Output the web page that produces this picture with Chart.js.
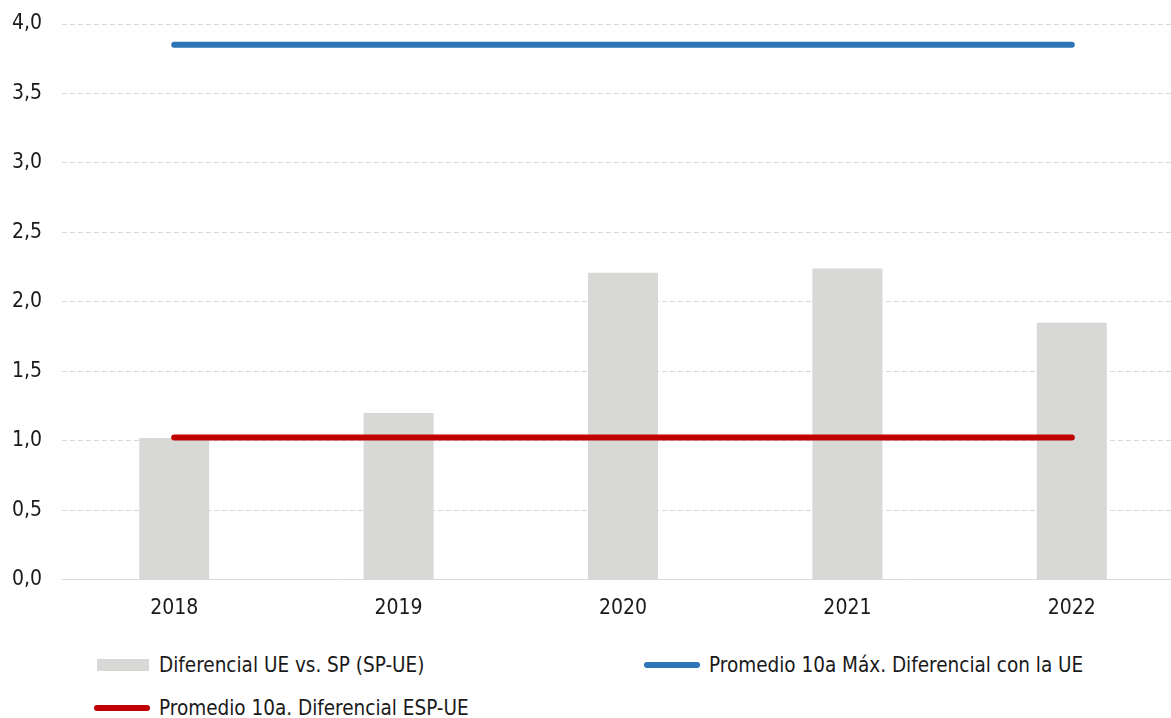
<!DOCTYPE html>
<html>
<head>
<meta charset="utf-8">
<script src="https://cdn.jsdelivr.net/npm/chart.js@4.4.1/dist/chart.umd.min.js"></script>
<style>
  html, body { margin: 0; padding: 0; overflow: hidden; background: #fff; }
  #wrap { position: relative; width: 1171px; height: 718px; overflow: hidden; }
  #box { position: absolute; left: 0; top: 0; width: 1184px; height: 637px; }
  #legend {
    position: absolute; left: 94px; top: 651px;
    display: grid; grid-template-columns: 550px 460px; row-gap: 15px;
    font-family: "DejaVu Sans Condensed", "DejaVu Sans", sans-serif;
    font-size: 20.5px; color: #1a1a1a;
  }
  .item { display: flex; align-items: center; height: 28px; }
  .sw { margin-right: 9px; }
</style>
</head>
<body>
<div id="wrap">
  <div id="box"><canvas id="chart"></canvas></div>
  <div id="legend"></div>
</div>
<script>
// data
const years = ['2018', '2019', '2020', '2021', '2022'];
const diferencialUe = [1.02, 1.20, 2.21, 2.24, 1.85];
const promedioMax = [3.85, 3.85, 3.85, 3.85, 3.85];
const promedioEsp = [1.025, 1.025, 1.025, 1.025, 1.025];

const GREY = '#d8d8d7';
const BLUE = '#2e75b8';
const RED = '#c00000';
const GRID = '#d9d9d9';
const FONT = '"DejaVu Sans Condensed", "DejaVu Sans", sans-serif';

const fmt = v => v.toFixed(1).replace('.', ',');

const chart = new Chart(document.getElementById('chart'), {
  type: 'bar',
  data: {
    labels: years,
    datasets: [
      {
        type: 'bar',
        label: 'Diferencial UE vs. SP (SP-UE)',
        data: diferencialUe,
        backgroundColor: GREY,
        barPercentage: 0.312,
        categoryPercentage: 1,
        order: 3
      },
      {
        type: 'line',
        label: 'Promedio 10a Máx. Diferencial con la UE',
        data: promedioMax,
        borderColor: BLUE,
        backgroundColor: BLUE,
        borderWidth: 6,
        borderCapStyle: 'round',
        pointRadius: 0,
        order: 1
      },
      {
        type: 'line',
        label: 'Promedio 10a. Diferencial ESP-UE',
        data: promedioEsp,
        borderColor: RED,
        backgroundColor: RED,
        borderWidth: 6,
        borderCapStyle: 'round',
        pointRadius: 0,
        order: 2
      }
    ]
  },
  options: {
    responsive: true,
    maintainAspectRatio: false,
    animation: false,
    layout: { padding: { top: 24, left: 0, right: 0, bottom: 0 } },
    plugins: {
      legend: { display: false },
      tooltip: { enabled: false }
    },
    scales: {
      x: {
        grid: { display: false, drawTicks: false, tickLength: 0 },
        border: { display: true, color: GRID, width: 1 },
        ticks: { color: '#1a1a1a', padding: 16, font: { family: FONT, size: 21 } }
      },
      y: {
        min: 0,
        max: 4,
        afterFit: scale => { scale.width = 62; },
        grid: {
          drawTicks: true,
          tickLength: 20,
          tickColor: 'rgba(0,0,0,0)',
          color: ctx => (ctx.tick && ctx.tick.value === 0 ? 'rgba(0,0,0,0)' : GRID)
        },
        border: { display: false, dash: [5, 3] },
        ticks: {
          stepSize: 0.5,
          padding: 0,
          color: '#1a1a1a',
          font: { family: FONT, size: 21 },
          callback: v => fmt(v)
        }
      }
    }
  }
});

// legend laid out like the reference: two columns, bar and blue first
const legendOrder = [0, 1, 2];
const legendEl = document.getElementById('legend');
legendOrder.forEach(i => {
  const ds = chart.data.datasets[i];
  const item = document.createElement('div');
  item.className = 'item';
  const sw = document.createElement('span');
  sw.className = 'sw';
  if (ds.type === 'bar') {
    sw.style.cssText = 'display:inline-block;width:52px;height:12px;margin-left:3px;margin-right:10px;background:' + ds.backgroundColor;
  } else {
    sw.style.cssText = 'display:inline-block;width:56px;height:6px;border-radius:3px;background:' + ds.borderColor;
  }
  item.appendChild(sw);
  item.appendChild(document.createTextNode(ds.label));
  legendEl.appendChild(item);
});
</script>
</body>
</html>
